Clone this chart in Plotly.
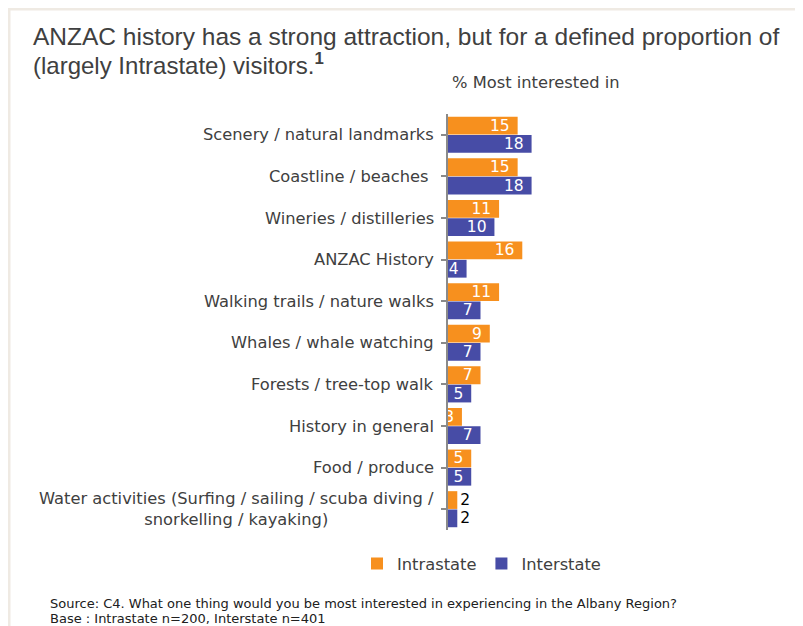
import plotly.graph_objects as go

categories = [
    "Scenery / natural landmarks",
    "Coastline / beaches\u00a0",
    "Wineries / distilleries",
    "ANZAC History",
    "Walking trails / nature walks",
    "Whales / whale watching",
    "Forests / tree-top walk",
    "History in general",
    "Food / produce",
    "Water activities (Surfing / sailing / scuba diving /<br>snorkelling / kayaking)",
]
intrastate = [15, 15, 11, 16, 11, 9, 7, 3, 5, 2]
interstate = [18, 18, 10, 4, 7, 7, 5, 7, 5, 2]

ORANGE = "#F7901E"
BLUE = "#474CA6"
TXT = "#404040"
VFONT = "DejaVu Sans"

# The page is shown with an 8px body margin, so screen = figure + 8.
OFF = 8
W, H = 803, 626
P_LEFT, P_RIGHT, P_TOP, P_BOTTOM = 448, 780, 114, 530   # plot area, screen px
ML = P_LEFT - OFF
MT = P_TOP - OFF
MR = W - (P_RIGHT - OFF)
MB = H - (P_BOTTOM - OFF)
PW = P_RIGHT - P_LEFT
PH = P_BOTTOM - P_TOP


def px(x):
    return (x - P_LEFT) / PW


def py(y):
    return (P_BOTTOM - y) / PH


cat_ids = list(range(len(categories)))

intra_pos = ["inside" if v >= 3 else "outside" for v in intrastate]
intra_col = ["white" if v >= 3 else "black" for v in intrastate]
inter_pos = ["inside" if v >= 3 else "outside" for v in interstate]
inter_col = ["white" if v >= 3 else "black" for v in interstate]

fig = go.Figure()
fig.add_trace(go.Bar(
    name="Intrastate", y=cat_ids, x=intrastate, orientation="h",
    marker=dict(color=ORANGE, line=dict(width=0)),
    texttemplate="%{x}\u00a0", textposition=intra_pos,
    insidetextanchor="end", constraintext="none", textangle=0,
    textfont=dict(family=VFONT, size=15.5, color=intra_col),
    cliponaxis=False,
))
fig.add_trace(go.Bar(
    name="Interstate", y=cat_ids, x=interstate, orientation="h",
    marker=dict(color=BLUE, line=dict(width=0)),
    texttemplate="%{x}\u00a0", textposition=inter_pos,
    insidetextanchor="end", constraintext="none", textangle=0,
    textfont=dict(family=VFONT, size=15.5, color=inter_col),
    cliponaxis=False,
))

annotations = []
for i, c in enumerate(categories):
    annotations.append(dict(
        x=0, y=i, xref="paper", yref="y", text=c, showarrow=False,
        xanchor="right", yanchor="middle", xshift=-12, align="center",
        font=dict(family=VFONT, size=16.3, color=TXT),
    ))

annotations += [
    dict(x=px(31), y=py(36.5), xref="paper", yref="paper",
         text="ANZAC history has a strong attraction, but for a defined proportion of",
         showarrow=False, xanchor="left", yanchor="middle",
         font=dict(family="Liberation Sans", size=24.5, color=TXT)),
    dict(x=px(31), y=py(64), xref="paper", yref="paper",
         text="(largely Intrastate) visitors.<sup><b>1</b></sup>",
         showarrow=False, xanchor="left", yanchor="middle",
         font=dict(family="Liberation Sans", size=24, color=TXT)),
    dict(x=px(450), y=py(83), xref="paper", yref="paper",
         text="% Most interested in", showarrow=False,
         xanchor="left", yanchor="middle",
         font=dict(family=VFONT, size=16.3, color=TXT)),
    dict(x=px(48), y=py(603), xref="paper", yref="paper",
         text="Source: C4. What one thing would you be most interested in experiencing in the Albany Region?",
         showarrow=False, xanchor="left", yanchor="middle",
         font=dict(family=VFONT, size=13, color="#202020")),
    dict(x=px(48), y=py(618), xref="paper", yref="paper",
         text="Base : Intrastate n=200, Interstate n=401",
         showarrow=False, xanchor="left", yanchor="middle",
         font=dict(family=VFONT, size=13, color="#202020")),
]

shapes = [
    dict(type="line", xref="paper", yref="paper",
         x0=px(8), x1=px(803), y0=py(9), y1=py(9),
         line=dict(color="#EFEAE3", width=3)),
    dict(type="line", xref="paper", yref="paper",
         x0=px(9), x1=px(9), y0=py(9), y1=py(640),
         line=dict(color="#EFEAE3", width=3)),
]

fig.update_layout(
    width=W, height=H,
    margin=dict(l=ML, r=MR, t=MT, b=MB, pad=0),
    paper_bgcolor="white", plot_bgcolor="white",
    barmode="group", bargap=0.12, bargroupgap=0.03,
    showlegend=True,
    legend=dict(orientation="h", x=px(357), y=py(564), xanchor="left", yanchor="middle",
                font=dict(family=VFONT, size=16.3, color=TXT),
                itemwidth=30, traceorder="normal"),
    xaxis=dict(range=[0, 71.5], visible=False, fixedrange=True),
    yaxis=dict(
        tickmode="array", tickvals=cat_ids, showticklabels=False,
        showline=True, linecolor="#8A8A8A", linewidth=2,
        ticks="outside", ticklen=5, tickcolor="#8A8A8A", tickwidth=1.5,
        tickson="boundaries", showgrid=False, zeroline=False,
        type="linear", range=[9.5, -0.5],
    ),
    annotations=annotations, shapes=shapes,
)

fig.write_html("out.html")
